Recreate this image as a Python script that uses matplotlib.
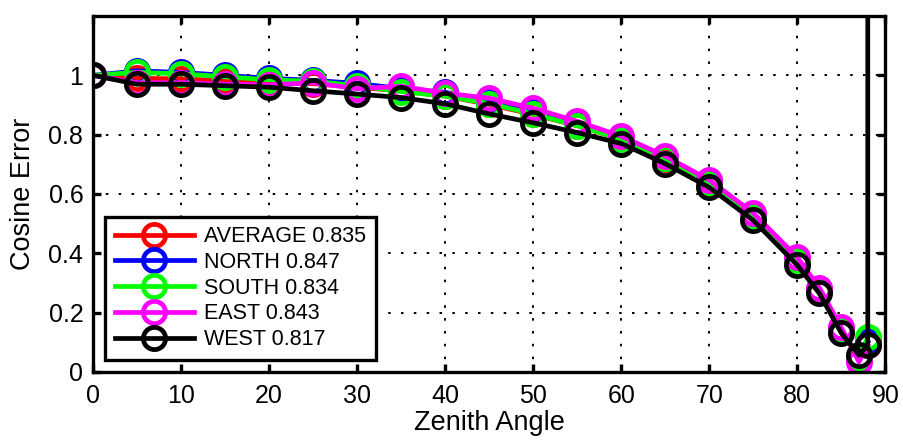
import matplotlib
matplotlib.use("Agg")
import matplotlib.pyplot as plt

plt.rcParams['font.family'] = ['Liberation Sans', 'DejaVu Sans']

zenith = [0, 5, 10, 15, 20, 25, 30, 35, 40, 45, 50, 55, 60, 65, 70, 75, 80, 82.5, 85, 87, 88]
average = [1.0, 0.99, 0.988, 0.982, 0.976, 0.972, 0.96, 0.947, 0.93, 0.902, 0.868, 0.83, 0.784,
           0.717, 0.636, 0.525, 0.375, 0.275, 0.141, 0.047, 0.1]
north = [1.0, 1.015, 1.01, 1.0, 0.99, 0.983, 0.973, 0.955, 0.943, 0.91, 0.875, 0.835, 0.787,
         0.72, 0.638, 0.527, 0.378, 0.278, 0.142, 0.05, 0.1]
south = [1.0, 1.01, 1.005, 0.995, 0.985, 0.98, 0.965, 0.945, 0.93, 0.905, 0.87, 0.83, 0.785,
         0.72, 0.635, 0.525, 0.375, 0.275, 0.14, 0.045, 0.118]
east = [1.0, 0.975, 0.975, 0.97, 0.968, 0.975, 0.955, 0.963, 0.94, 0.923, 0.889, 0.845, 0.795,
        0.728, 0.647, 0.536, 0.386, 0.284, 0.15, 0.034, 0.09]
west_zenith = [0, 5, 10, 15, 20, 25, 30, 35, 40, 45, 50, 55, 60, 65, 70, 75, 80, 82.5, 85, 87, 88, 88]
west = [1.0, 0.97, 0.97, 0.965, 0.96, 0.948, 0.937, 0.925, 0.904, 0.87, 0.84, 0.807, 0.77,
        0.702, 0.622, 0.511, 0.36, 0.265, 0.131, 0.057, 0.091, 1.5]

labels = ['AVERAGE 0.835', 'NORTH 0.847', 'SOUTH 0.834', 'EAST 0.843', 'WEST 0.817']
colors = ['#ff0000', '#0000ff', '#00ff00', '#ff00ff', '#000000']
xticks = [0, 10, 20, 30, 40, 50, 60, 70, 80, 90]
yticks = [0, 0.2, 0.4, 0.6, 0.8, 1.0]
ytick_labels = ['0', '0.2', '0.4', '0.6', '0.8', '1']

fig = plt.figure(figsize=(9.04, 4.41), dpi=100)
ax = fig.add_axes([0.1029, 0.1565, 0.8765, 0.8072])

series = [(zenith, average), (zenith, north), (zenith, south), (zenith, east), (west_zenith, west)]
for (xs, ys), lab, c in zip(series, labels, colors):
    ax.plot(xs, ys, color=c, lw=3.4, marker='o', ms=16, mew=3.4,
            mfc='none', mec=c, label=lab)

ax.set_xlim(0, 90)
ax.set_ylim(0, 1.2)
ax.set_xticks(xticks)
ax.set_yticks(yticks)
ax.set_yticklabels(ytick_labels)
ax.grid(True, color='black', linestyle=(0, (1.3, 5.3)), linewidth=1.4)
ax.tick_params(direction='in', length=6, width=2.4, top=True, right=True,
               labelsize=18)
ax.tick_params(axis='x', pad=9)
ax.tick_params(axis='y', pad=7)
for sp in ax.spines.values():
    sp.set_linewidth(2.4)
ax.set_xlabel('Zenith Angle', fontsize=19.5, labelpad=1)
ax.set_ylabel('Cosine Error', fontsize=19.5, labelpad=9)

leg = ax.legend(loc='lower left', bbox_to_anchor=(0.015, 0.034), borderaxespad=0,
                fontsize=15.5, handlelength=3.7, handletextpad=0.45, labelspacing=0.22,
                borderpad=0.45, fancybox=False, framealpha=1, edgecolor='black')
leg.get_frame().set_linewidth(2.4)

fig.savefig('out.png', dpi=100)
